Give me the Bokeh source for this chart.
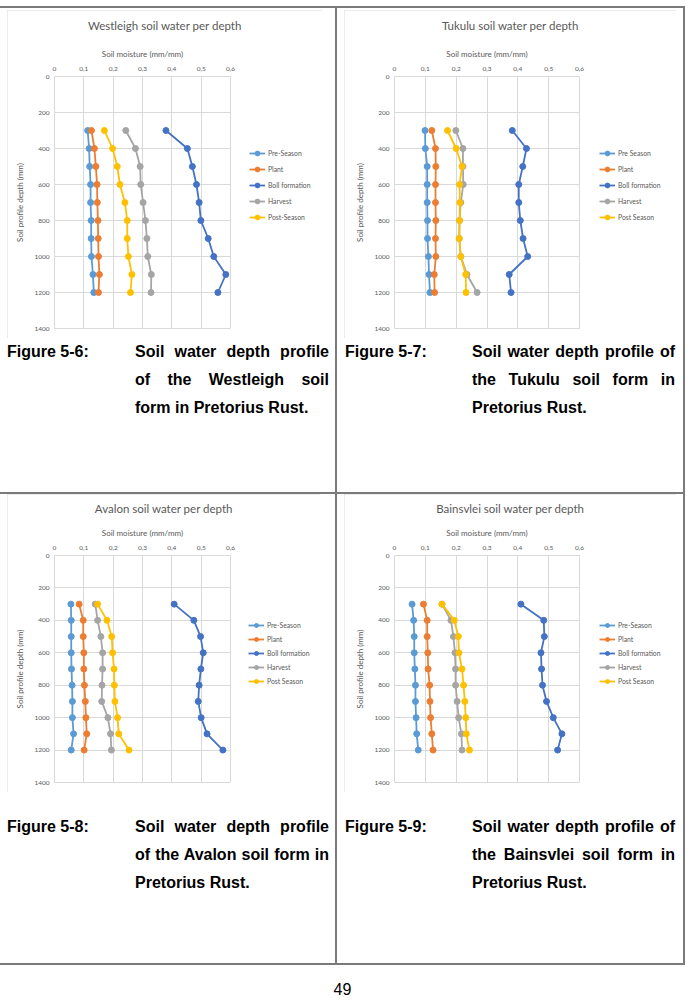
from bokeh.plotting import figure
from bokeh.models import (Range1d, FixedTicker, Legend, LegendItem, Div, Spacer, Label, Grid)
from bokeh.layouts import column, row
from bokeh.embed import file_html
from bokeh.resources import INLINE

# ---------------- data ----------------
depths = [300, 400, 500, 600, 700, 800, 900, 1000, 1100, 1200]
x_ticks = [0.0, 0.1, 0.2, 0.3, 0.4, 0.5, 0.6]
x_tick_labels = ["0", "0,1", "0,2", "0,3", "0,4", "0,5", "0,6"]
y_ticks = [0, 200, 400, 600, 800, 1000, 1200, 1400]
y_tick_labels = ["0", "200", "400", "600", "800", "1000", "1200", "1400"]
series_colors = ["#5B9BD5", "#ED7D31", "#4472C4", "#A5A5A5", "#FFC000"]

westleigh_labels = ["Pre-Season", "Plant", "Boll formation", "Harvest", "Post-Season"]
westleigh_pre = [0.113, 0.118, 0.120, 0.123, 0.123, 0.125, 0.125, 0.126, 0.131, 0.134]
westleigh_plant = [0.126, 0.136, 0.141, 0.145, 0.146, 0.148, 0.149, 0.150, 0.153, 0.150]
westleigh_boll = [0.380, 0.453, 0.470, 0.484, 0.493, 0.499, 0.524, 0.543, 0.584, 0.557]
westleigh_harvest = [0.243, 0.276, 0.292, 0.294, 0.302, 0.310, 0.315, 0.318, 0.330, 0.329]
westleigh_post = [0.170, 0.198, 0.214, 0.223, 0.240, 0.248, 0.248, 0.252, 0.264, 0.259]

tukulu_labels = ["Pre Season", "Plant", "Boll formation", "Harvest", "Post Season"]
tukulu_pre = [0.099, 0.100, 0.106, 0.106, 0.106, 0.107, 0.107, 0.110, 0.112, 0.115]
tukulu_plant = [0.121, 0.133, 0.134, 0.133, 0.133, 0.134, 0.133, 0.134, 0.129, 0.130]
tukulu_boll = [0.382, 0.428, 0.416, 0.403, 0.403, 0.408, 0.417, 0.432, 0.372, 0.378]
tukulu_harvest = [0.199, 0.222, 0.222, 0.223, 0.215, 0.211, 0.210, 0.215, 0.235, 0.268]
tukulu_post = [0.172, 0.200, 0.219, 0.211, 0.212, 0.211, 0.210, 0.215, 0.231, 0.232]

avalon_labels = ["Pre-Season", "Plant", "Boll formation", "Harvest", "Post Season"]
avalon_pre = [0.056, 0.057, 0.057, 0.057, 0.058, 0.060, 0.061, 0.061, 0.065, 0.057]
avalon_plant = [0.084, 0.098, 0.098, 0.100, 0.100, 0.102, 0.105, 0.107, 0.110, 0.101]
avalon_boll = [0.408, 0.475, 0.498, 0.507, 0.499, 0.493, 0.490, 0.500, 0.520, 0.574]
avalon_harvest = [0.139, 0.147, 0.158, 0.164, 0.164, 0.162, 0.161, 0.182, 0.191, 0.194]
avalon_post = [0.147, 0.179, 0.195, 0.198, 0.203, 0.204, 0.206, 0.215, 0.219, 0.254]

bainsvlei_labels = ["Pre-Season", "Plant", "Boll formation", "Harvest", "Post Season"]
bainsvlei_pre = [0.057, 0.062, 0.064, 0.064, 0.066, 0.068, 0.068, 0.070, 0.072, 0.077]
bainsvlei_plant = [0.094, 0.106, 0.106, 0.108, 0.109, 0.114, 0.115, 0.117, 0.121, 0.125]
bainsvlei_boll = [0.410, 0.484, 0.486, 0.475, 0.477, 0.480, 0.493, 0.515, 0.543, 0.529]
bainsvlei_harvest = [0.154, 0.183, 0.191, 0.196, 0.198, 0.198, 0.203, 0.208, 0.217, 0.219]
bainsvlei_post = [0.154, 0.194, 0.207, 0.209, 0.219, 0.224, 0.228, 0.231, 0.233, 0.243]

titles = ["Westleigh soil water per depth", "Tukulu soil water per depth",
          "Avalon soil water per depth", "Bainsvlei soil water per depth"]
x_axis_title = "Soil moisture (mm/mm)"
y_axis_title = "Soil profile depth (mm)"
fig_labels = ["Figure 5-6:", "Figure 5-7:", "Figure 5-8:", "Figure 5-9:"]
captions = ["Soil water depth profile of the Westleigh soil form in Pretorius Rust.",
            "Soil water depth profile of the Tukulu soil form in Pretorius Rust.",
            "Soil water depth profile of the Avalon soil form in Pretorius Rust.",
            "Soil water depth profile of the Bainsvlei soil form in Pretorius Rust."]
page_number = "49"

GRAY_TEXT = "#595959"
GRID = "#d9d9d9"
FONT = "Lato"
HAS_CROSS = "cross_bounds" in Grid.properties()

X_MIN, X_MAX = x_ticks[0], x_ticks[-1]
Y_MIN, Y_MAX = y_ticks[0], y_ticks[-1]


def make_chart(title, labels, series, W, H, bl, br, bt, bb, title_top, leg_dx, leg_top, row_h, row_gap):
    # the plotting frame fills the whole chart; the ranges are widened so that the
    # value area [0,0.6] x [0,1400] sits where Excel's plot area sits
    sx = (X_MAX - X_MIN) / (W - bl - br)
    sy = (Y_MAX - Y_MIN) / (H - bt - bb)
    p = figure(width=W, height=H, output_backend="svg", toolbar_location=None,
               x_range=Range1d(X_MIN - bl * sx, X_MAX + br * sx),
               y_range=Range1d(Y_MAX + bb * sy, Y_MIN - bt * sy),
               x_axis_location="above", min_border=0,
               min_border_left=0, min_border_right=0, min_border_top=0, min_border_bottom=0,
               background_fill_color="white", border_fill_color="white",
               outline_line_color=None)
    p.title.visible = False
    p.styles = {"outline": "1px solid #d9d9d9", "outline-offset": "-1px"}

    xa = p.xaxis[0]
    xa.ticker = FixedTicker(ticks=x_ticks)
    xa.major_label_overrides = dict(zip(x_ticks, x_tick_labels))
    xa.axis_label = x_axis_title
    xa.fixed_location = Y_MIN
    xa.bounds = (X_MIN, X_MAX)
    ya = p.yaxis[0]
    ya.ticker = FixedTicker(ticks=y_ticks)
    ya.major_label_overrides = dict(zip(y_ticks, y_tick_labels))
    ya.axis_label = y_axis_title
    ya.fixed_location = X_MIN
    ya.bounds = (Y_MIN, Y_MAX)
    for ax in (xa, ya):
        ax.axis_line_color = None
        ax.major_tick_line_color = None
        ax.minor_tick_line_color = None
        ax.major_tick_out = 0
        ax.major_tick_in = 0
        ax.major_label_text_font = FONT
        ax.major_label_text_font_size = "6.5px"
        ax.major_label_text_color = GRAY_TEXT
        ax.axis_label_text_font = FONT
        ax.axis_label_text_font_size = "8px"
        ax.axis_label_text_font_style = "normal"
        ax.axis_label_text_color = GRAY_TEXT
    xa.major_label_standoff = 6
    xa.axis_label_standoff = 5
    ya.major_label_standoff = 5
    ya.axis_label_standoff = 6

    p.xgrid.ticker = FixedTicker(ticks=x_ticks)
    p.ygrid.ticker = FixedTicker(ticks=y_ticks)
    if HAS_CROSS:
        xg, yg = p.xgrid[0], p.ygrid[0]
        xg.bounds = (X_MIN, X_MAX)
        yg.bounds = (Y_MIN, Y_MAX)
        xg.cross_bounds = (Y_MIN, Y_MAX)
        yg.cross_bounds = (X_MIN, X_MAX)
        for g in (xg, yg):
            g.grid_line_color = GRID
            g.grid_line_width = 1
    else:
        p.xgrid.visible = False
        p.ygrid.visible = False
        p.segment(x0=x_ticks, x1=x_ticks, y0=[Y_MIN] * len(x_ticks), y1=[Y_MAX] * len(x_ticks),
                  line_color=GRID, line_width=1)
        p.segment(x0=[X_MIN] * len(y_ticks), x1=[X_MAX] * len(y_ticks), y0=y_ticks, y1=y_ticks,
                  line_color=GRID, line_width=1)

    items = []
    for lab, vals, col in zip(labels, series, series_colors):
        r1 = p.line(vals, depths, line_color=col, line_width=1.8)
        r2 = p.scatter(vals, depths, marker="circle", size=6, fill_color=col, line_color=col)
        items.append(LegendItem(label=lab, renderers=[r1, r2]))

    n = len(items)
    leg_h = n * row_h + (n - 1) * row_gap
    leg = Legend(items=items, location=(W - br + leg_dx, H - leg_top - leg_h),
                 orientation="vertical",
                 padding=0, margin=0, spacing=row_gap, glyph_width=16, glyph_height=row_h,
                 label_height=row_h, label_standoff=3, label_text_font=FONT,
                 label_text_font_size="6.8px", label_text_color=GRAY_TEXT,
                 border_line_color=None, background_fill_alpha=0)
    p.add_layout(leg, "center")

    t = Label(x=W / 2, y=H - title_top, x_units="screen", y_units="screen",
              text=title, text_align="center", text_baseline="middle",
              text_font=FONT, text_font_size="11.5px", text_color=GRAY_TEXT)
    p.add_layout(t)
    return p


fig1 = make_chart(titles[0], westleigh_labels,
                  [westleigh_pre, westleigh_plant, westleigh_boll, westleigh_harvest, westleigh_post],
                  315, 328, 47, 92, 66, 10, 15, 19, 137, 12, 4)
fig2 = make_chart(titles[1], tukulu_labels,
                  [tukulu_pre, tukulu_plant, tukulu_boll, tukulu_harvest, tukulu_post],
                  332, 328, 50, 97, 66, 10, 15, 20, 137, 12, 4)
fig3 = make_chart(titles[2], avalon_labels,
                  [avalon_pre, avalon_plant, avalon_boll, avalon_harvest, avalon_post],
                  313, 298, 47, 90, 61, 10, 14, 18, 126, 10, 4)
fig4 = make_chart(titles[3], bainsvlei_labels,
                  [bainsvlei_pre, bainsvlei_plant, bainsvlei_boll, bainsvlei_harvest, bainsvlei_post],
                  332, 298, 50, 97, 61, 10, 14, 20, 126, 10, 4)


def caption_div(fig_label, text, cell_w, cell_h, label_left, body_left, body_w, top):
    html = (
        f'<div style="position:relative;width:{cell_w}px;height:{cell_h}px;'
        f"font-family:'Liberation Sans',Arial,sans-serif;font-weight:bold;font-size:16px;"
        f'line-height:28px;color:#000;">'
        f'<div style="position:absolute;left:{label_left}px;top:{top}px;white-space:nowrap;">{fig_label}</div>'
        f'<div style="position:absolute;left:{body_left}px;top:{top}px;width:{body_w}px;'
        f'text-align:justify;">{text}</div></div>'
    )
    return Div(text=html, width=cell_w, height=cell_h, margin=0)


LINE = "#7a7a7a"


def hline(w):
    return Spacer(width=w, height=2, margin=0, styles={"background-color": LINE})


def vline(h):
    return Spacer(width=2, height=h, margin=0, styles={"background-color": LINE})


cell1 = column(Spacer(width=335, height=2, margin=0),
               row(Spacer(width=7, height=328, margin=0), fig1),
               caption_div(fig_labels[0], captions[0], 335, 154, 7, 135, 194, 0))
cell2 = column(Spacer(width=346, height=2, margin=0),
               row(Spacer(width=7, height=328, margin=0), fig2),
               caption_div(fig_labels[1], captions[1], 346, 154, 8, 135, 203, 0))
cell3 = column(row(Spacer(width=7, height=298, margin=0), fig3),
               caption_div(fig_labels[2], captions[2], 335, 171, 7, 135, 194, 21))
cell4 = column(row(Spacer(width=7, height=298, margin=0), fig4),
               caption_div(fig_labels[3], captions[3], 346, 171, 8, 135, 203, 21))

row1 = row(cell1, vline(484), cell2, vline(484))
row2 = row(cell3, vline(469), cell4, vline(469))

pnum = Div(text=(f'<div style="width:685px;height:35px;position:relative;">'
                 f'<div style="position:absolute;left:0;width:685px;top:15px;text-align:center;'
                 f"font-family:'Liberation Sans',Arial,sans-serif;font-size:16px;line-height:20px;\">"
                 f'{page_number}</div></div>'), width=685, height=35, margin=0)

page = column(Spacer(width=685, height=6, margin=0), hline(685), row1, hline(685), row2,
              hline(685), pnum)

open("out.html", "w").write(file_html(page, INLINE))
